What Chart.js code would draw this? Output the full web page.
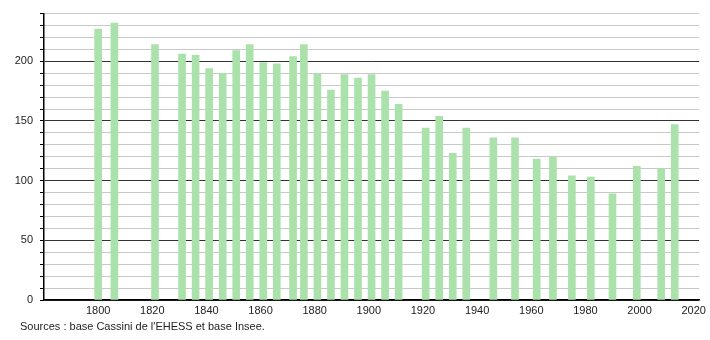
<!DOCTYPE html>
<html>
<head>
<meta charset="utf-8">
<script src="https://cdn.jsdelivr.net/npm/chart.js@4/dist/chart.umd.min.js"></script>
<style>
  html, body { margin: 0; padding: 0; background: #fff; }
  #wrap { position: relative; width: 710px; height: 340px; }
  #chart-box { position: absolute; left: 0; top: 0; width: 710px; height: 340px; }
  #sources {
    position: absolute; left: 20px; top: 320px;
    font: 11px "Liberation Sans", Arial, sans-serif; color: #222;
  }
</style>
</head>
<body>
<div id="wrap">
  <div id="chart-box"><canvas id="population-chart"></canvas></div>
  <div id="sources">Sources : base Cassini de l'EHESS et base Insee.</div>
</div>
<script>
// census years and population
const years = [1800, 1806, 1821, 1831, 1836, 1841, 1846, 1851, 1856, 1861, 1866, 1872, 1876,
  1881, 1886, 1891, 1896, 1901, 1906, 1911, 1921, 1926, 1931, 1936, 1946, 1954, 1962,
  1968, 1975, 1982, 1990, 1999, 2008, 2013];
const population = [227, 232, 214, 206, 205, 194, 190, 209, 214, 199, 198, 204, 214,
  190, 176, 189, 186, 189, 175, 164, 144, 154, 123, 144, 136, 136, 118,
  120, 104, 103, 89, 112, 110, 147];
const xTickLabels = [1800, 1820, 1840, 1860, 1880, 1900, 1920, 1940, 1960, 1980, 2000, 2020];
const yTickLabels = [0, 50, 100, 150, 200];

(function() {
  const ctx = document.getElementById('population-chart');
  const font = { family: '"Liberation Sans", Arial, sans-serif', size: 11 };

  new Chart(ctx, {
    type: 'bar',
    data: {
      datasets: [{
        data: years.map((y, i) => ({ x: y, y: population[i] })),
        backgroundColor: '#abe2ab',
        borderWidth: 0,
        barThickness: 7
      }]
    },
    options: {
      responsive: true,
      maintainAspectRatio: false,
      animation: false,
      layout: { padding: { top: 11, right: 10, left: 0, bottom: 0 } },
      plugins: { legend: { display: false }, tooltip: { enabled: false } },
      scales: {
        x: {
          type: 'linear',
          offset: false,
          min: 1780,
          max: 2022,
          grid: { display: false, drawTicks: false },
          border: { display: true, color: '#000', width: 1.5 },
          ticks: {
            color: '#222', font: font, padding: 4, maxRotation: 0, autoSkip: false,
            callback: v => String(v)
          },
          afterBuildTicks: scale => { scale.ticks = xTickLabels.map(v => ({ value: v })); },
          afterFit: scale => { scale.height = 40; }
        },
        y: {
          min: 0,
          max: 240,
          grid: {
            color: c => (yTickLabels.includes(c.tick.value) ? '#333' : '#c8c8c8'),
            tickColor: '#000',
            tickLength: 4
          },
          border: { display: true, color: '#000', width: 1.5 },
          ticks: {
            stepSize: 10,
            autoSkip: false,
            color: '#222',
            font: font,
            padding: 7,
            callback: v => (yTickLabels.includes(v) ? v : '')
          },
          afterFit: scale => { scale.width = 44; }
        }
      }
    }
  });
})();
</script>
</body>
</html>
